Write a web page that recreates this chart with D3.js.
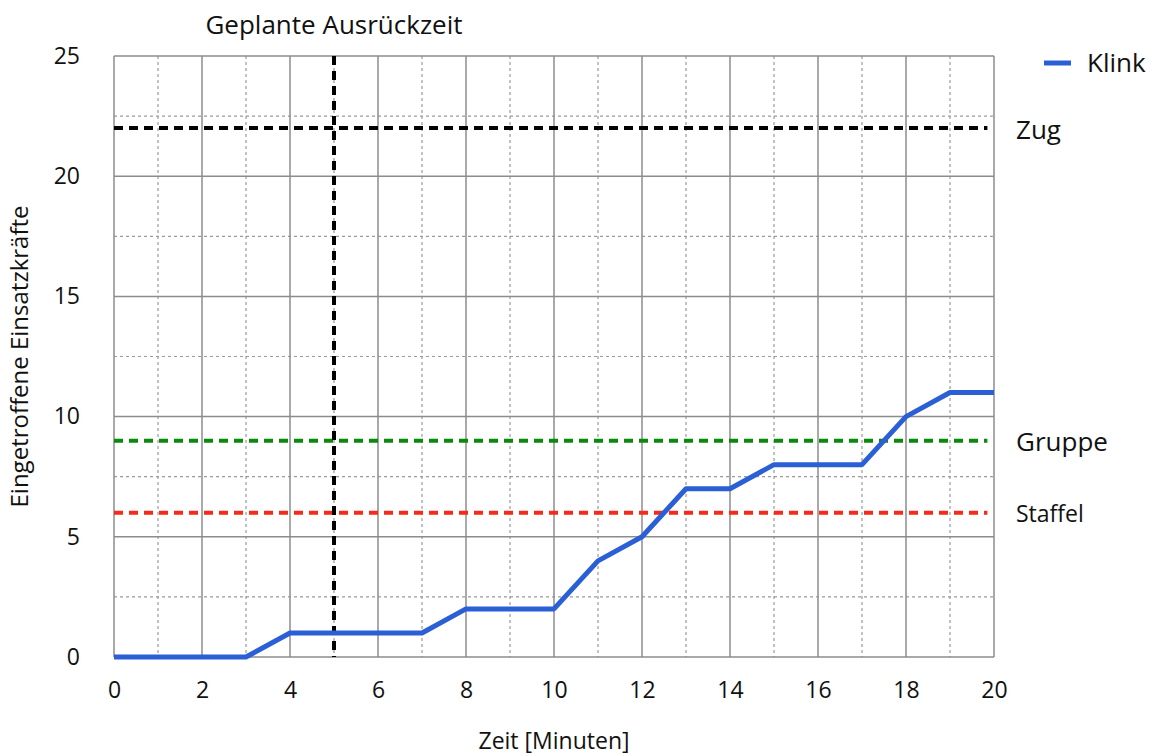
<!DOCTYPE html>
<html>
<head>
<meta charset="utf-8">
<script src="https://cdn.jsdelivr.net/npm/d3@7"></script>
<style>
  body { margin: 0; background: #fff; }
  text { font-family: "Open Sans", sans-serif; fill: #111; }
</style>
</head>
<body>
<svg id="chart" width="1154" height="756"></svg>
<script>
// data
const minutes = [0,1,2,3,4,5,6,7,8,9,10,11,12,13,14,15,16,17,18,19,20]
const klink   = [0,0,0,0,1,1,1,1,2,2,2,4,5,7,7,8,8,8,10,11,11]
const thresholds = [
  { name: "Zug", value: 22, color: "#000000", size: 26 },
  { name: "Gruppe", value: 9, color: "#0a8a0a", size: 26 },
  { name: "Staffel", value: 6, color: "#f52a1a", size: 23 }
]
const plannedTime = 5
const xTicks = [0,2,4,6,8,10,12,14,16,18,20]
const yTicks = [0,5,10,15,20,25]

const width = 1154, height = 756
const margin = { top: 56, right: 160, bottom: 99, left: 114 }
const chartWidth = width - margin.left - margin.right
const chartHeight = height - margin.top - margin.bottom

const x = d3.scaleLinear().domain([0, 20]).range([0, chartWidth])
const y = d3.scaleLinear().domain([0, 25]).range([chartHeight, 0])

const svg = d3.select("#chart").append("g")
  .attr("transform", `translate(${margin.left},${margin.top})`)

// minor grid
const grid = svg.append("g").attr("id", "grid")
grid.selectAll(".vminor")
  .data(d3.range(1, 20, 2))
  .join("line")
  .attr("x1", d => x(d)).attr("x2", d => x(d))
  .attr("y1", 0).attr("y2", chartHeight)
  .attr("stroke", "#9a9a9a").attr("stroke-width", 1.2)
  .attr("stroke-dasharray", "3,3")
grid.selectAll(".hminor")
  .data([2.5, 7.5, 12.5, 17.5, 22.5])
  .join("line")
  .attr("x1", 0).attr("x2", chartWidth)
  .attr("y1", d => y(d)).attr("y2", d => y(d))
  .attr("stroke", "#9a9a9a").attr("stroke-width", 1.2)
  .attr("stroke-dasharray", "3,3")

// major grid
grid.append("g").selectAll("line")
  .data(xTicks)
  .join("line")
  .attr("x1", d => x(d)).attr("x2", d => x(d))
  .attr("y1", 0).attr("y2", chartHeight)
  .attr("stroke", "#8c8c8c").attr("stroke-width", 1.5)
grid.append("g").selectAll("line")
  .data(yTicks)
  .join("line")
  .attr("x1", 0).attr("x2", chartWidth)
  .attr("y1", d => y(d)).attr("y2", d => y(d))
  .attr("stroke", "#8c8c8c").attr("stroke-width", 1.5)

// axes
const xAxis = d3.axisBottom(x).tickValues(xTicks).tickSize(0).tickPadding(25)
const yAxis = d3.axisLeft(y).tickValues(yTicks).tickSize(0).tickPadding(34)
svg.append("g").attr("transform", `translate(0,${chartHeight})`).call(xAxis)
  .call(g => g.select(".domain").remove())
  .call(g => g.selectAll("text").attr("font-size", 23).attr("fill", "#111").attr("font-family", "Open Sans"))
svg.append("g").call(yAxis)
  .call(g => g.select(".domain").remove())
  .call(g => g.selectAll("text").attr("font-size", 23).attr("fill", "#111").attr("font-family", "Open Sans"))

svg.append("text")
  .attr("x", chartWidth / 2).attr("y", chartHeight + 92)
  .attr("text-anchor", "middle").attr("font-size", 23)
  .text("Zeit [Minuten]")
svg.append("text")
  .attr("transform", `translate(${-86},${chartHeight / 2}) rotate(-90)`)
  .attr("text-anchor", "middle").attr("font-size", 24)
  .text("Eingetroffene Einsatzkräfte")

// threshold lines
const thr = svg.append("g").attr("id", "thresholds")
thr.selectAll("line")
  .data(thresholds)
  .join("line")
  .attr("x1", 0).attr("x2", x(19.85))
  .attr("y1", d => y(d.value)).attr("y2", d => y(d.value))
  .attr("stroke", d => d.color).attr("stroke-width", 4)
  .attr("stroke-dasharray", "9,6")
thr.selectAll("text")
  .data(thresholds)
  .join("text")
  .attr("x", chartWidth + 22).attr("y", d => y(d.value))
  .attr("dy", "0.4em")
  .attr("font-size", d => d.size)
  .text(d => d.name)

// planned time
svg.append("line")
  .attr("x1", x(plannedTime)).attr("x2", x(plannedTime))
  .attr("y1", 0).attr("y2", chartHeight)
  .attr("stroke", "#000").attr("stroke-width", 4)
  .attr("stroke-dasharray", "9,6")
svg.append("text")
  .attr("x", x(plannedTime)).attr("y", -22)
  .attr("text-anchor", "middle").attr("font-size", 26)
  .text("Geplante Ausrückzeit")

// series
const line = d3.line().x((d, i) => x(minutes[i])).y(d => y(d))
svg.append("path")
  .datum(klink)
  .attr("d", line)
  .attr("fill", "none")
  .attr("stroke", "#2a5fd6")
  .attr("stroke-width", 5)
  .attr("stroke-linejoin", "round")

// legend
const legend = d3.select("#chart").append("g")
  .attr("transform", `translate(${width - 110},63)`)
legend.append("line")
  .attr("x1", 0).attr("x2", 27).attr("y1", 0).attr("y2", 0)
  .attr("stroke", "#2a5fd6").attr("stroke-width", 5)
legend.append("text")
  .attr("x", 43).attr("y", 0).attr("dy", "0.35em")
  .attr("font-size", 26)
  .text("Klink")
</script>
</body>
</html>
